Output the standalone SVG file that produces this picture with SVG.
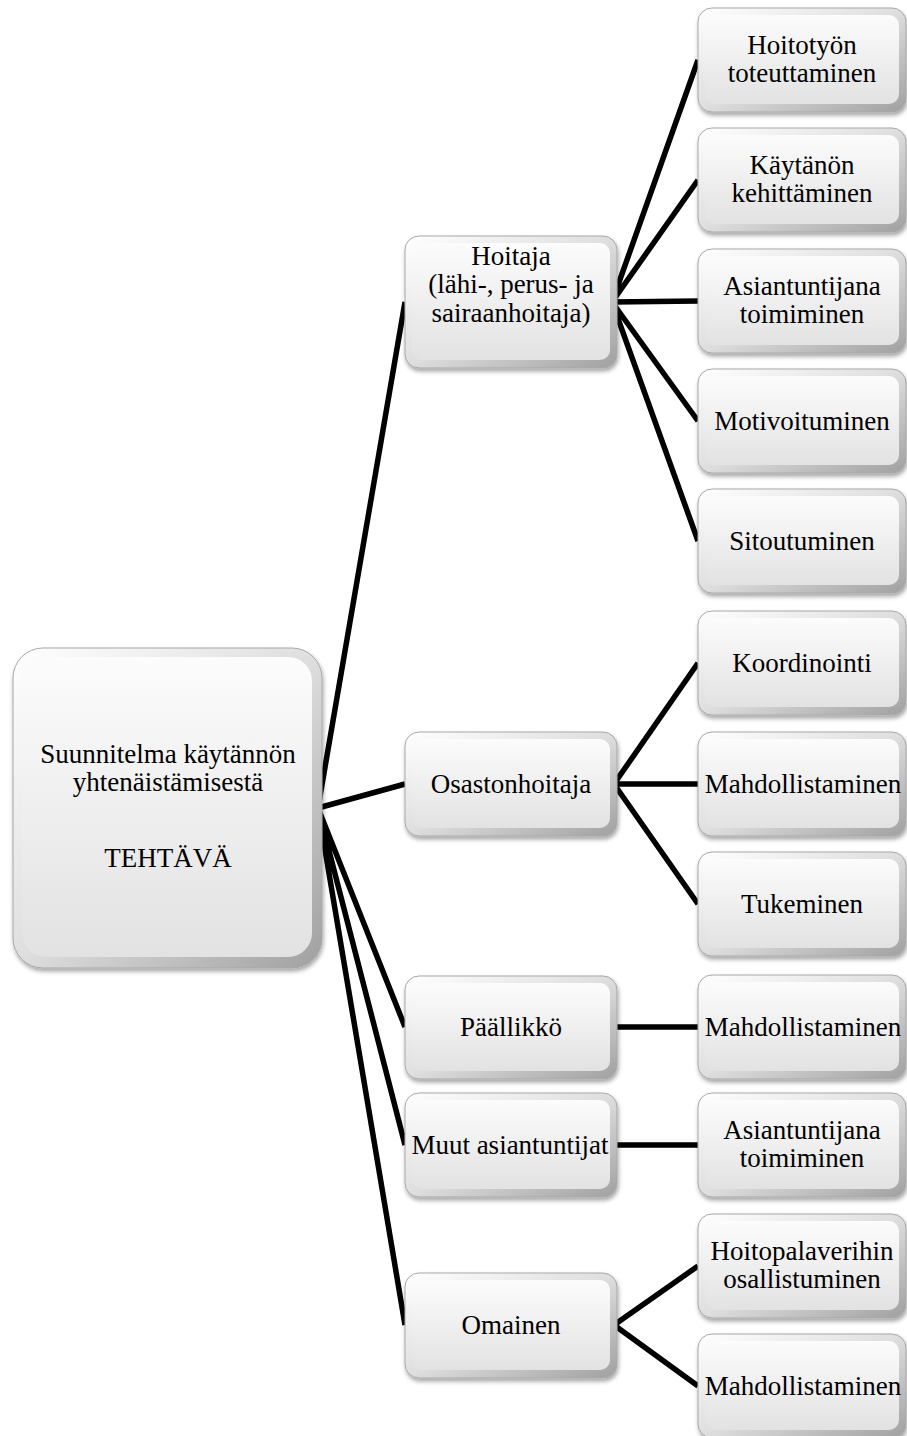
<svg xmlns="http://www.w3.org/2000/svg" width="907" height="1436" viewBox="0 0 907 1436">
<defs>
<linearGradient id="gOuter" x1="0" y1="0" x2="1" y2="1">
<stop offset="0" stop-color="#ffffff"/>
<stop offset="0.5" stop-color="#dedede"/>
<stop offset="1" stop-color="#a0a0a0"/>
</linearGradient>
<linearGradient id="gInner" x1="0" y1="0" x2="0" y2="1">
<stop offset="0" stop-color="#fcfcfc"/>
<stop offset="1" stop-color="#e2e2e2"/>
</linearGradient>
<filter id="sh" x="-10%" y="-10%" width="125%" height="130%">
<feDropShadow dx="1" dy="3" stdDeviation="2" flood-color="#000" flood-opacity="0.35"/>
</filter>
</defs>
<style>
.o{fill:url(#gOuter);stroke:#a8a8a8;stroke-width:1;filter:url(#sh)}
.i{fill:url(#gInner)}
.t{font-family:"Liberation Serif","Times New Roman",serif;font-size:27px;fill:#000;text-anchor:middle}
.c{stroke:#000;stroke-width:5.5;fill:none;stroke-linecap:butt}
</style>
<rect width="907" height="1436" fill="#fff"/>
<g id="connectors">
<path class="c" d="M318 808L405 302M318 808L405 784M318 808L405 1027M318 808L405 1145M318 808L405 1325"/>
<path class="c" d="M612 302L698 60M612 302L698 180M612 302L698 301M612 302L698 421M612 302L698 541"/>
<path class="c" d="M614 784L698 663M614 784L698 784M614 784L698 904"/>
<path class="c" d="M614 1027L698 1027M614 1145L698 1145"/>
<path class="c" d="M614 1325L698 1266M614 1325L698 1386"/>
</g>
<g id="root">
<rect class="o" x="13" y="648" width="309" height="320" rx="30"/>
<rect class="i" x="22" y="657" width="290" height="300" rx="24"/>
<text class="t" x="168" y="763">Suunnitelma käytännön</text>
<text class="t" x="168" y="791">yhtenäistämisestä</text>
<text class="t" x="168" y="867">TEHTÄVÄ</text>
</g>
<g id="hoitaja">
<rect class="o" x="405" y="236" width="212" height="132" rx="14"/>
<rect class="i" x="412" y="243" width="198" height="117" rx="10"/>
<text class="t" x="511" y="265">Hoitaja</text>
<text class="t" x="511" y="293">(lähi-, perus- ja</text>
<text class="t" x="511" y="322">sairaanhoitaja)</text>
</g>
<g id="osastonhoitaja">
<rect class="o" x="405" y="732" width="212" height="104" rx="14"/>
<rect class="i" x="412" y="739" width="198" height="89" rx="10"/>
<text class="t" x="511" y="793">Osastonhoitaja</text>
</g>
<g id="paallikko">
<rect class="o" x="405" y="976" width="212" height="103" rx="14"/>
<rect class="i" x="412" y="983" width="198" height="88" rx="10"/>
<text class="t" x="511" y="1036">Päällikkö</text>
</g>
<g id="muut">
<rect class="o" x="405" y="1093" width="212" height="104" rx="14"/>
<rect class="i" x="412" y="1100" width="198" height="89" rx="10"/>
<text class="t" x="510" y="1154">Muut asiantuntijat</text>
</g>
<g id="omainen">
<rect class="o" x="405" y="1273" width="212" height="105" rx="14"/>
<rect class="i" x="412" y="1280" width="198" height="90" rx="10"/>
<text class="t" x="511" y="1334">Omainen</text>
</g>
<g id="hoitotyon">
<rect class="o" x="698" y="8" width="208" height="104" rx="14"/>
<rect class="i" x="705" y="15" width="194" height="89" rx="10"/>
<text class="t" x="802" y="54">Hoitotyön</text>
<text class="t" x="802" y="82">toteuttaminen</text>
</g>
<g id="kaytanon">
<rect class="o" x="698" y="128" width="208" height="104" rx="14"/>
<rect class="i" x="705" y="135" width="194" height="89" rx="10"/>
<text class="t" x="802" y="174">Käytänön</text>
<text class="t" x="802" y="202">kehittäminen</text>
</g>
<g id="asiantuntijana1">
<rect class="o" x="698" y="249" width="208" height="104" rx="14"/>
<rect class="i" x="705" y="256" width="194" height="89" rx="10"/>
<text class="t" x="802" y="295">Asiantuntijana</text>
<text class="t" x="802" y="323">toimiminen</text>
</g>
<g id="motivoituminen">
<rect class="o" x="698" y="369" width="208" height="104" rx="14"/>
<rect class="i" x="705" y="376" width="194" height="89" rx="10"/>
<text class="t" x="802" y="430">Motivoituminen</text>
</g>
<g id="sitoutuminen">
<rect class="o" x="698" y="489" width="208" height="104" rx="14"/>
<rect class="i" x="705" y="496" width="194" height="89" rx="10"/>
<text class="t" x="802" y="550">Sitoutuminen</text>
</g>
<g id="koordinointi">
<rect class="o" x="698" y="611" width="208" height="104" rx="14"/>
<rect class="i" x="705" y="618" width="194" height="89" rx="10"/>
<text class="t" x="802" y="672">Koordinointi</text>
</g>
<g id="mahdollistaminen1">
<rect class="o" x="698" y="732" width="208" height="104" rx="14"/>
<rect class="i" x="705" y="739" width="194" height="89" rx="10"/>
<text class="t" x="803" y="793">Mahdollistaminen</text>
</g>
<g id="tukeminen">
<rect class="o" x="698" y="852" width="208" height="104" rx="14"/>
<rect class="i" x="705" y="859" width="194" height="89" rx="10"/>
<text class="t" x="802" y="913">Tukeminen</text>
</g>
<g id="mahdollistaminen2">
<rect class="o" x="698" y="975" width="208" height="104" rx="14"/>
<rect class="i" x="705" y="982" width="194" height="89" rx="10"/>
<text class="t" x="803" y="1036">Mahdollistaminen</text>
</g>
<g id="asiantuntijana2">
<rect class="o" x="698" y="1093" width="208" height="104" rx="14"/>
<rect class="i" x="705" y="1100" width="194" height="89" rx="10"/>
<text class="t" x="802" y="1139">Asiantuntijana</text>
<text class="t" x="802" y="1167">toimiminen</text>
</g>
<g id="hoitopalaverihin">
<rect class="o" x="698" y="1214" width="208" height="104" rx="14"/>
<rect class="i" x="705" y="1221" width="194" height="89" rx="10"/>
<text class="t" x="802" y="1260">Hoitopalaverihin</text>
<text class="t" x="802" y="1288">osallistuminen</text>
</g>
<g id="mahdollistaminen3">
<rect class="o" x="698" y="1334" width="208" height="104" rx="14"/>
<rect class="i" x="705" y="1341" width="194" height="89" rx="10"/>
<text class="t" x="803" y="1395">Mahdollistaminen</text>
</g>
</svg>
